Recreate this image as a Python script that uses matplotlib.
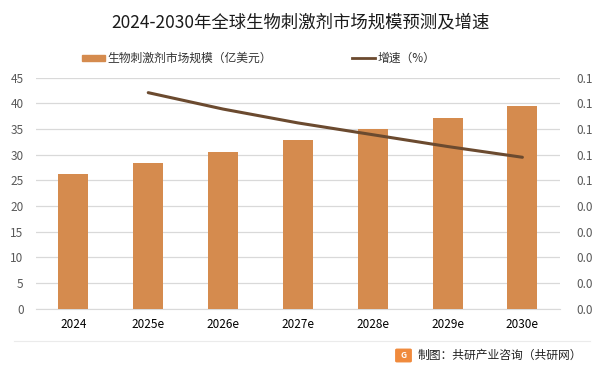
import matplotlib
matplotlib.use("Agg")
import matplotlib.pyplot as plt
from matplotlib.lines import Line2D
from matplotlib.patches import FancyBboxPatch
import numpy as np

plt.rcParams['font.family'] = ['Noto Sans CJK SC', 'DejaVu Sans']

years = ["2024", "2025e", "2026e", "2027e", "2028e", "2029e", "2030e"]
market_size = [26.2, 28.4, 30.5, 32.8, 35.0, 37.1, 39.5]
growth_years = ["2025e", "2026e", "2027e", "2028e", "2029e", "2030e"]
growth_rate = [0.0842, 0.0778, 0.0724, 0.0678, 0.0632, 0.0590]

bar_color = "#D58B4E"
line_color = "#6B4A2F"
grid_color = "#D9D9D9"
label_color = "#595959"

fig = plt.figure(figsize=(6, 3.74), dpi=100)
ax = fig.add_axes([0.06, 0.175, 0.873, 0.617])
ax2 = ax.twinx()

x = np.arange(len(years))
ax.bar(x, market_size, width=0.4, color=bar_color, zorder=3)
ax.set_xlim(-0.5, len(years) - 0.5)
ax.set_ylim(0, 45)
ax.set_yticks(np.arange(0, 46, 5))
ax.grid(axis='y', color=grid_color, linewidth=0.9, zorder=0)
ax.set_xticks(x)
ax.set_xticklabels(years, fontsize=8.5, color="#000000")
ax.tick_params(axis='y', labelsize=8.5, labelcolor=label_color, length=0, pad=9)
ax.tick_params(axis='x', length=0, pad=7)
for s in ["top", "right", "left"]:
    ax.spines[s].set_visible(False)
ax.spines["bottom"].set_color(grid_color)

gx = [years.index(y) for y in growth_years]
ax2.plot(gx, growth_rate, color=line_color, linewidth=2.2, zorder=4,
         solid_capstyle='round')
ax2.set_ylim(0, 0.09)
ax2.set_yticks(np.arange(10) * 0.01)
ax2.set_yticklabels([f"{v:.1f}" for v in np.arange(10) * 0.01])
ax2.tick_params(axis='y', labelsize=8.5, labelcolor=label_color, length=0, pad=12)
for s in ["top", "right", "left", "bottom"]:
    ax2.spines[s].set_visible(False)

fig.text(0.5, 0.94, "2024-2030年全球生物刺激剂市场规模预测及增速",
         ha='center', va='center', fontsize=12.5, color="#1a1a1a")

# legend
fig.patches.append(plt.Rectangle((82 / 600, 1 - 61 / 374), 23 / 600, 6 / 374,
                                 transform=fig.transFigure, color=bar_color))
fig.text(107 / 600, 1 - 58 / 374, "生物刺激剂市场规模（亿美元）", fontsize=8.5,
         va='center', ha='left', color="#333333")
fig.lines.append(Line2D([352 / 600, 375 / 600], [1 - 58 / 374, 1 - 58 / 374],
                        transform=fig.transFigure, color=line_color, linewidth=2))
fig.text(378 / 600, 1 - 58 / 374, "增速（%）", fontsize=8.5,
         va='center', ha='left', color="#333333")

# footer
fig.lines.append(Line2D([14 / 600, 590 / 600], [1 - 341 / 374, 1 - 341 / 374],
                        transform=fig.transFigure, color="#EBEBEB", linewidth=0.8))
fig.patches.append(FancyBboxPatch((397 / 600, 1 - 361 / 374), 13 / 600, 11 / 374,
                                  boxstyle="round,pad=0.002",
                                  transform=fig.transFigure, color="#F08A3C"))
fig.text(403.5 / 600, 1 - 355.5 / 374, "G", fontsize=6, fontweight='bold',
         color="white", ha='center', va='center')
fig.text(418 / 600, 1 - 355 / 374, "制图：共研产业咨询（共研网）", fontsize=8.5,
         va='center', ha='left', color="#222222")

fig.savefig("out.png", dpi=100)
